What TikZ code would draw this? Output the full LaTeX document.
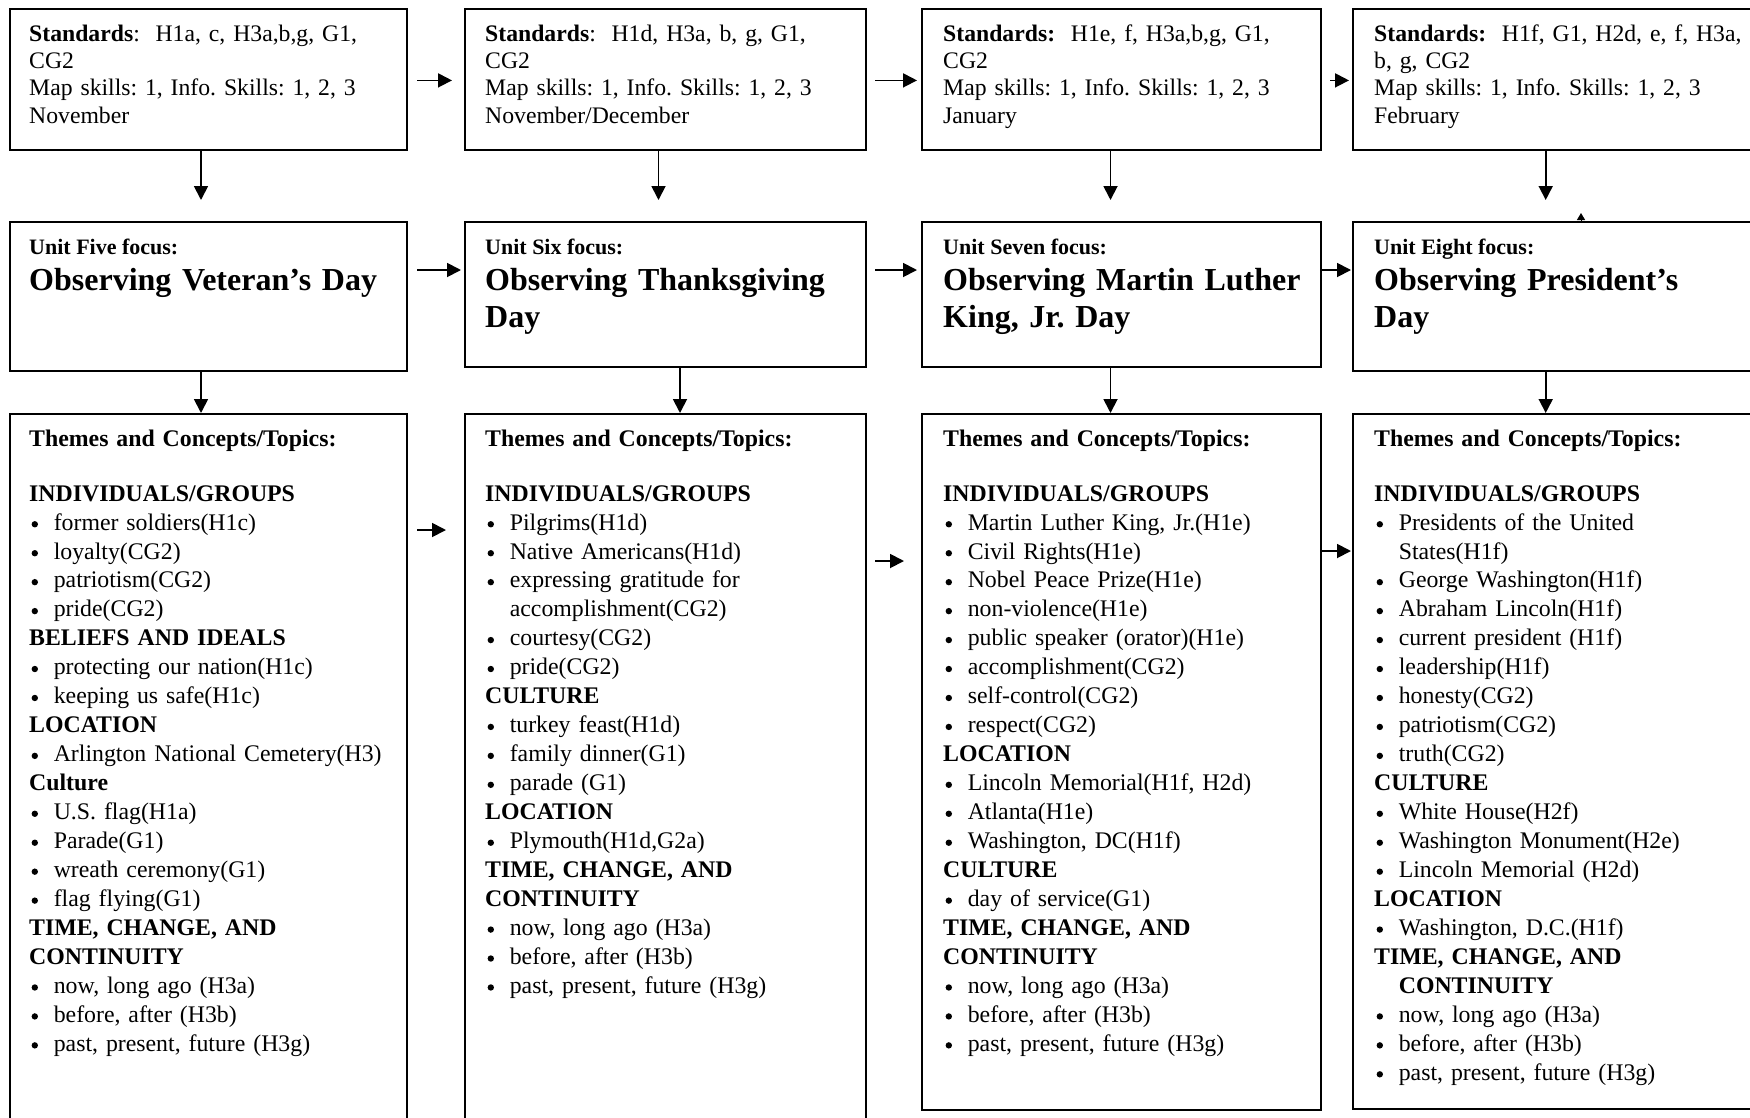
\documentclass[tikz,border=0pt]{standalone}
\usepackage{fontspec}
\setmainfont{Liberation Serif}
\usetikzlibrary{arrows.meta}

\newcommand{\bul}[1]{\par\hangindent=24.6pt\hangafter=1\makebox[24.6pt][l]{\hspace{2.4pt}\tikz[baseline=0pt]\fill (3.2pt,5.8pt) circle (3.2pt);}#1}
\newcommand{\hd}[1]{\par\textbf{#1}}

\begin{document}
\frenchspacing
\begin{tikzpicture}[x=1pt, y=-1pt,
	box/.style={draw, line width=2.2pt, anchor=north west, inner sep=0pt},
	stdtext/.style={anchor=north west, inner sep=0pt, text width=390pt, align=left, font=\fontsize{23.7}{27.3}\selectfont},
	unitlabel/.style={anchor=base west, inner sep=0pt, font=\fontsize{22}{25}\selectfont\bfseries},
	focustext/.style={anchor=north west, inner sep=0pt, text width=390pt, align=left, font=\fontsize{32}{36.8}\selectfont\bfseries},
	themetext/.style={anchor=north west, inner sep=0pt, text width=390pt, align=left, font=\fontsize{23.8}{28.95}\selectfont},
	arr/.style={-{Triangle[length=14pt,width=14pt]}, line width=1.8pt}]
	\useasboundingbox (0,0) rectangle (1750,1117);

	\node[box, minimum width=397pt, minimum height=140.5pt] (std5) at (9,8) {};
	\node[box, minimum width=401pt, minimum height=140.5pt] (std6) at (464,8) {};
	\node[box, minimum width=399pt, minimum height=140.5pt] (std7) at (921,8) {};
	\node[box, minimum width=400pt, minimum height=140.5pt] (std8) at (1352,8) {};

	\node[box, minimum width=397pt, minimum height=148.5pt] (focus5) at (9,221) {};
	\node[box, minimum width=401pt, minimum height=145pt] (focus6) at (464,221) {};
	\node[box, minimum width=399pt, minimum height=145pt] (focus7) at (921,221) {};
	\node[box, minimum width=400pt, minimum height=148.5pt] (focus8) at (1352,221) {};

	\node[box, minimum width=397pt, minimum height=712pt] (themes5) at (9,413) {};
	\node[box, minimum width=401pt, minimum height=712pt] (themes6) at (464,413) {};
	\node[box, minimum width=399pt, minimum height=696pt] (themes7) at (921,413) {};
	\node[box, minimum width=400pt, minimum height=695pt] (themes8) at (1352,413) {};

	\node[stdtext] (std5text) at ([shift={(20,13.9)}]std5.north west) {\strut\textbf{Standards}:~ H1a, c, H3a,b,g, G1,\\ CG2\\ Map skills: 1, Info. Skills: 1, 2, 3\\ November};
	\node[stdtext] (std6text) at ([shift={(21,13.9)}]std6.north west) {\strut\textbf{Standards}:~ H1d, H3a, b, g, G1,\\ CG2\\ Map skills: 1, Info. Skills: 1, 2, 3\\ November/December};
	\node[stdtext] (std7text) at ([shift={(22,13.9)}]std7.north west) {\strut\textbf{Standards:}~ H1e, f, H3a,b,g, G1,\\ CG2\\ Map skills: 1, Info. Skills: 1, 2, 3\\ January};
	\node[stdtext] (std8text) at ([shift={(22,13.9)}]std8.north west) {\strut\textbf{Standards:}~ H1f, G1, H2d, e, f, H3a,\\ b, g, CG2\\ Map skills: 1, Info. Skills: 1, 2, 3\\ February};

	\node[unitlabel] (unit5) at ([shift={(20,33.5)}]focus5.north west) {Unit Five focus:};
	\node[unitlabel] (unit6) at ([shift={(21,33.5)}]focus6.north west) {Unit Six focus:};
	\node[unitlabel] (unit7) at ([shift={(22,33.5)}]focus7.north west) {Unit Seven focus:};
	\node[unitlabel] (unit8) at ([shift={(22,33.5)}]focus8.north west) {Unit Eight focus:};
	\node[focustext] (title5) at ([shift={(20,44)}]focus5.north west) {\strut Observing Veteran’s Day};
	\node[focustext] (title6) at ([shift={(21,44)}]focus6.north west) {\strut Observing Thanksgiving\\ Day};
	\node[focustext] (title7) at ([shift={(22,44)}]focus7.north west) {\strut Observing Martin Luther\\ King, Jr. Day};
	\node[focustext] (title8) at ([shift={(22,44)}]focus8.north west) {\strut Observing President’s\\ Day};

	\node[themetext] (list5) at ([shift={(20,12.7)}]themes5.north west) {\strut\textbf{Themes and Concepts/Topics:}\par\vspace{26pt}
		\hd{INDIVIDUALS/GROUPS}
		\bul{former soldiers(H1c)}
		\bul{loyalty(CG2)}
		\bul{patriotism(CG2)}
		\bul{pride(CG2)}
		\hd{BELIEFS AND IDEALS}
		\bul{protecting our nation(H1c)}
		\bul{keeping us safe(H1c)}
		\hd{LOCATION}
		\bul{Arlington National Cemetery(H3)}
		\hd{Culture}
		\bul{U.S. flag(H1a)}
		\bul{Parade(G1)}
		\bul{wreath ceremony(G1)}
		\bul{flag flying(G1)}
		\hd{TIME, CHANGE, AND}
		\hd{CONTINUITY}
		\bul{now, long ago (H3a)}
		\bul{before, after (H3b)}
		\bul{past, present, future (H3g)}};
	\node[themetext] (list6) at ([shift={(21,12.7)}]themes6.north west) {\strut\textbf{Themes and Concepts/Topics:}\par\vspace{26pt}
		\hd{INDIVIDUALS/GROUPS}
		\bul{Pilgrims(H1d)}
		\bul{Native Americans(H1d)}
		\bul{expressing gratitude for\newline accomplishment(CG2)}
		\bul{courtesy(CG2)}
		\bul{pride(CG2)}
		\hd{CULTURE}
		\bul{turkey feast(H1d)}
		\bul{family dinner(G1)}
		\bul{parade (G1)}
		\hd{LOCATION}
		\bul{Plymouth(H1d,G2a)}
		\hd{TIME, CHANGE, AND}
		\hd{CONTINUITY}
		\bul{now, long ago (H3a)}
		\bul{before, after (H3b)}
		\bul{past, present, future (H3g)}};
	\node[themetext] (list7) at ([shift={(22,12.7)}]themes7.north west) {\strut\textbf{Themes and Concepts/Topics:}\par\vspace{26pt}
		\hd{INDIVIDUALS/GROUPS}
		\bul{Martin Luther King, Jr.(H1e)}
		\bul{Civil Rights(H1e)}
		\bul{Nobel Peace Prize(H1e)}
		\bul{non-violence(H1e)}
		\bul{public speaker (orator)(H1e)}
		\bul{accomplishment(CG2)}
		\bul{self-control(CG2)}
		\bul{respect(CG2)}
		\hd{LOCATION}
		\bul{Lincoln Memorial(H1f, H2d)}
		\bul{Atlanta(H1e)}
		\bul{Washington, DC(H1f)}
		\hd{CULTURE}
		\bul{day of service(G1)}
		\hd{TIME, CHANGE, AND}
		\hd{CONTINUITY}
		\bul{now, long ago (H3a)}
		\bul{before, after (H3b)}
		\bul{past, present, future (H3g)}};
	\node[themetext] (list8) at ([shift={(22,12.7)}]themes8.north west) {\strut\textbf{Themes and Concepts/Topics:}\par\vspace{26pt}
		\hd{INDIVIDUALS/GROUPS}
		\bul{Presidents of the United\newline States(H1f)}
		\bul{George Washington(H1f)}
		\bul{Abraham Lincoln(H1f)}
		\bul{current president (H1f)}
		\bul{leadership(H1f)}
		\bul{honesty(CG2)}
		\bul{patriotism(CG2)}
		\bul{truth(CG2)}
		\hd{CULTURE}
		\bul{White House(H2f)}
		\bul{Washington Monument(H2e)}
		\bul{Lincoln Memorial (H2d)}
		\hd{LOCATION}
		\bul{Washington, D.C.(H1f)}
		\par\hangindent=24.6pt\hangafter=1\textbf{TIME, CHANGE, AND}\newline\textbf{CONTINUITY}
		\bul{now, long ago (H3a)}
		\bul{before, after (H3b)}
		\bul{past, present, future (H3g)}};

	\draw[arr] ([shift={(9,72.4)}]std5.north east) -- ([shift={(-12,72.4)}]std6.north west);
	\draw[arr] ([shift={(8,72.4)}]std6.north east) -- ([shift={(-4,72.4)}]std7.north west);
	\draw[arr] ([shift={(8,72.4)}]std7.north east) -- ([shift={(-3,72.4)}]std8.north west);
	\draw[arr] ([shift={(9,49)}]focus5.north east) -- ([shift={(-3,49)}]focus6.north west);
	\draw[arr] ([shift={(8,49)}]focus6.north east) -- ([shift={(-4,49)}]focus7.north west);
	\draw[arr] ([shift={(0,49)}]focus7.north east) -- ([shift={(-1,49)}]focus8.north west);
	\draw[arr] ([shift={(9,117)}]themes5.north east) -- ([shift={(-18,117)}]themes6.north west);
	\draw[arr] ([shift={(8,148)}]themes6.north east) -- ([shift={(-17,148)}]themes7.north west);
	\draw[arr] ([shift={(0,138)}]themes7.north east) -- ([shift={(-1,138)}]themes8.north west);

	\draw[arr] ([shift={(192,0)}]std5.south west) -- ([shift={(192,-21)}]focus5.north west);
	\draw[arr] ([shift={(194.5,0)}]std6.south west) -- ([shift={(194.5,-21)}]focus6.north west);
	\draw[arr] ([shift={(189.5,0)}]std7.south west) -- ([shift={(189.5,-21)}]focus7.north west);
	\draw[arr] ([shift={(193.7,0)}]std8.south west) -- ([shift={(193.7,-21)}]focus8.north west);
	\draw[arr] ([shift={(192,0)}]focus5.south west) -- ([shift={(192,0)}]themes5.north west);
	\draw[arr] ([shift={(216,-2)}]focus6.south west) -- ([shift={(216,0)}]themes6.north west);
	\draw[arr] ([shift={(189.5,0)}]focus7.south west) -- ([shift={(189.5,0)}]themes7.north west);
	\draw[arr] ([shift={(193.7,0)}]focus8.south west) -- ([shift={(193.7,0)}]themes8.north west);
	\draw[-{Triangle[length=7pt,width=8pt]}, line width=1pt] ([shift={(229,0)}]focus8.north west) -- ++(0,-8);
\end{tikzpicture}
\end{document}
